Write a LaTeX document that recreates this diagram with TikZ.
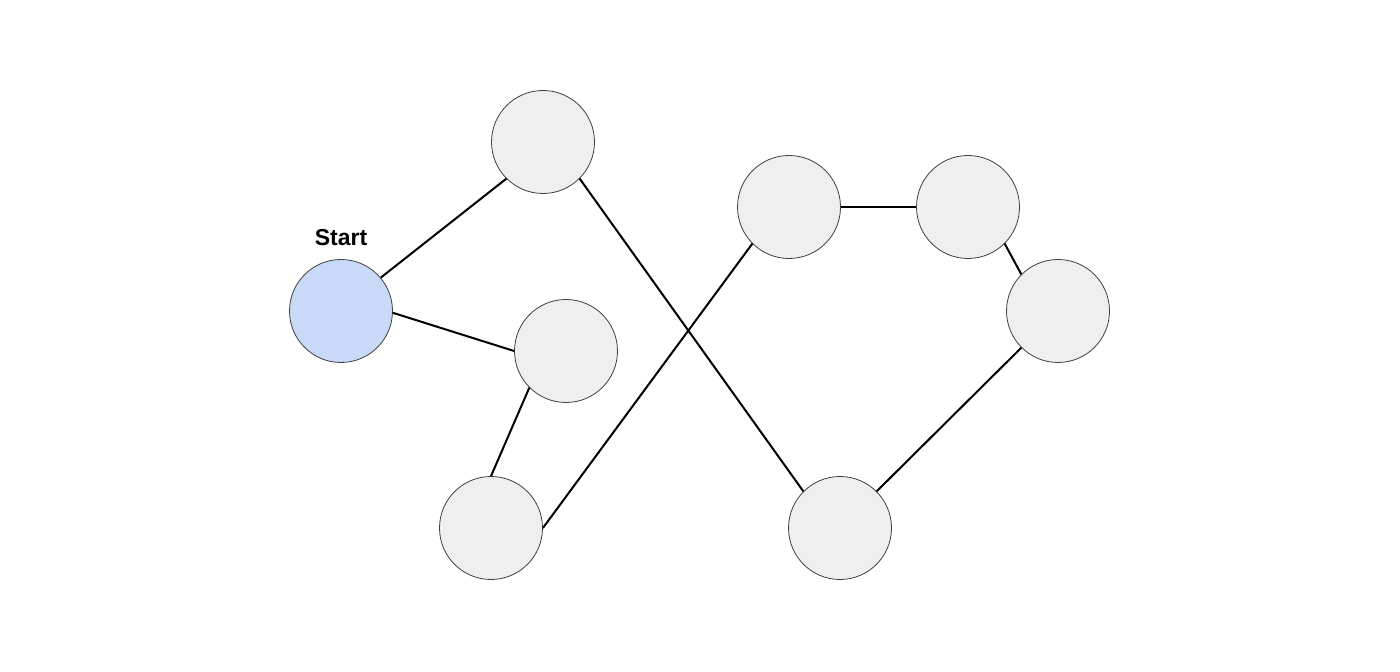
\documentclass[tikz,border=0pt]{standalone}
\usepackage{fontspec}
\setmainfont{Liberation Sans}
\usepackage{tikz}
\definecolor{GraphGray}{HTML}{EFEFEF}
\definecolor{GraphBlue}{HTML}{C9DAF8}
\definecolor{GraphEdge}{HTML}{000000}

\begin{document}
\begin{tikzpicture}[
  x=0.5pt,y=-0.5pt,
  every node/.style={font=\fontsize{11.5}{14}\selectfont\bfseries},
  vertex/.style={circle,draw=black!75,line width=0.4pt,fill=GraphGray,
    minimum size=51.5pt,inner sep=0pt},
  start/.style={vertex,fill=GraphBlue},
  edge/.style={draw=GraphEdge,line width=1pt}
]
\useasboundingbox (0,0) rectangle (1400,672);
\node[start] (s) at (341,311) {};
\node[vertex] (a) at (543,142) {};
\node[vertex] (b) at (566,351) {};
\node[vertex] (c) at (491,528) {};
\node[vertex] (d) at (789,207) {};
\node[vertex] (e) at (968,207) {};
\node[vertex] (f) at (1058,311) {};
\node[vertex] (g) at (840,528) {};
\node[anchor=base] (label) at (341,246) {Start};

\draw[edge] (s.40) -- (a.south west);
\draw[edge] (s.-2) -- (b.west);
\draw[edge] (b.south west) -- (c.north);
\draw[edge] (c.east) -- (d.south west);
\draw[edge] (a.south east) -- (g.north west);
\draw[edge] (d.east) -- (e.west);
\draw[edge] (e.south east) -- (f.north west);
\draw[edge] (f.south west) -- (g.north east);
\end{tikzpicture}
\end{document}
